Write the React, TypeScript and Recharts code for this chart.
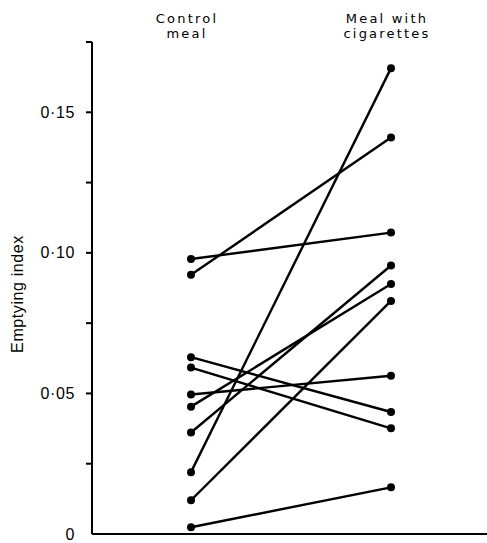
import React from 'react';
import { LineChart, Line, XAxis, YAxis } from 'recharts';

const categories = ['Control\nmeal', 'Meal with\ncigarettes'];
const controlValues = [0.0978, 0.0922, 0.0629, 0.0592, 0.0496, 0.0453, 0.0361, 0.022, 0.012, 0.0024];
const cigaretteValues = [0.1072, 0.141, 0.0434, 0.0376, 0.0563, 0.0889, 0.0955, 0.1657, 0.0829, 0.0166];
const yTicks = [0, 0.025, 0.05, 0.075, 0.1, 0.125, 0.15, 0.175];
const yLabels: Record<string, string> = { '0': '0', '0.05': '0·05', '0.1': '0·10', '0.15': '0·15' };

const subjectKeys = controlValues.map((_, i) => `s${i + 1}`);
const seriesByCategory = [controlValues, cigaretteValues];
const data = categories.map((cat, ci) => {
  const row: Record<string, number | string> = { group: cat };
  subjectKeys.forEach((k, i) => {
    row[k] = seriesByCategory[ci][i];
  });
  return row;
});

const FONT = '"Liberation Sans", Arial, sans-serif';
const TOP_FONT = '"DejaVu Sans", sans-serif';

const YTick = (props: any) => {
  const { x, y, payload } = props;
  const v = payload.value;
  const label = yLabels[String(v)];
  return (
    <g>
      {v !== 0 && <line x1={x + 2} x2={x + 8} y1={y} y2={y} stroke="#000" strokeWidth={2} />}
      {label && (
        <text x={x - 9} y={y} textAnchor="end" dominantBaseline="central" fontFamily={FONT} fontSize={16} fill="#000" letterSpacing={0.6}>
          {label}
        </text>
      )}
    </g>
  );
};

const TopTick = (props: any) => {
  const { x, y, payload } = props;
  const lines = String(payload.value).split('\n');
  return (
    <g>
      {lines.map((ln, i) => (
        <text key={i} x={x - 4} y={y - 11 + i * 15} textAnchor="middle" fontFamily={TOP_FONT} fontSize={13} fill="#000" letterSpacing={2.2}>
          {ln}
        </text>
      ))}
    </g>
  );
};

const YLabel = (props: any) => {
  const vb = props.viewBox || { x: 0, y: 0, height: 0 };
  const cx = 17;
  const cy = vb.y + vb.height / 2 + 6;
  return (
    <text x={cx} y={cy} transform={`rotate(-90 ${cx} ${cy})`} textAnchor="middle" dominantBaseline="central" fontFamily={FONT} fontSize={16} fill="#000" letterSpacing={0.6}>
      Emptying index
    </text>
  );
};

export default function App() {
  return (
    <div style={{ position: 'absolute', left: 0, top: 0, background: '#fff' }}>
      <LineChart width={487} height={543} data={data} margin={{ top: 0, right: 0, bottom: 8, left: 0 }}>
        <XAxis
          dataKey="group"
          xAxisId="top"
          orientation="top"
          height={42}
          axisLine={false}
          tickLine={false}
          tick={<TopTick />}
          padding={{ left: 99, right: 96 }}
          interval={0}
        />
        <XAxis
          dataKey="group"
          height={1}
          tick={false}
          tickLine={false}
          axisLine={{ stroke: '#000', strokeWidth: 2 }}
          padding={{ left: 99, right: 96 }}
        />
        <YAxis
          width={92}
          domain={[0, 0.175]}
          ticks={yTicks}
          interval={0}
          tickLine={false}
          tickSize={6}
          tickMargin={2}
          axisLine={{ stroke: '#000', strokeWidth: 2 }}
          tick={<YTick />}
          label={{ content: <YLabel /> }}
        />
        {subjectKeys.map((k) => (
          <Line
            key={k}
            dataKey={k}
            type="linear"
            stroke="#000"
            strokeWidth={2.4}
            dot={{ r: 4, fill: '#000', stroke: '#000', strokeWidth: 0 }}
            activeDot={false}
            isAnimationActive={false}
          />
        ))}
      </LineChart>
    </div>
  );
}
